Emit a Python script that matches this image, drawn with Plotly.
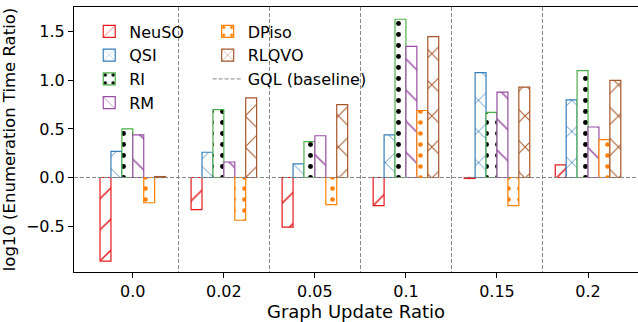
import plotly.graph_objects as go

categories = ["0.0", "0.02", "0.05", "0.1", "0.15", "0.2"]
methods = ["NeuSO", "QSI", "RI", "RM", "DPiso", "RLQVO"]
neuso = [-0.86, -0.33, -0.51, -0.29, -0.01, 0.13]
qsi = [0.27, 0.26, 0.14, 0.44, 1.08, 0.80]
ri = [0.50, 0.70, 0.37, 1.63, 0.67, 1.10]
rm = [0.44, 0.16, 0.43, 1.35, 0.88, 0.52]
dpiso = [-0.26, -0.44, -0.28, 0.69, -0.29, 0.39]
rlqvo = [0.01, 0.82, 0.75, 1.45, 0.93, 1.00]
series = [neuso, qsi, ri, rm, dpiso, rlqvo]

colors = ["#e41a1c", "#377eb8", "#4daf4a", "#984ea3", "#ff7f00", "#a65628"]
shapes = ["/", "x", ".", "\\", ".", "x"]
fgcols = ["#e41a1c", "#377eb8", "#000000", "#984ea3", "#ff7f00", "#a65628"]
sizes = [22, 22, 11, 22, 11, 22]
solid = [0.07, 0.07, 0.16, 0.07, 0.14, 0.09]

bar_w = 0.12
x_range = [-0.646, 5.549]
y_range = [-0.973, 1.756]
font = "DejaVu Sans"

fig = go.Figure()
xs = list(range(len(categories)))
for i, (name, vals) in enumerate(zip(methods, series)):
    fig.add_trace(go.Bar(
        x=xs, y=vals, name=name,
        width=bar_w, offset=(i - 3) * bar_w,
        marker=dict(color="white",
                    line=dict(color=colors[i], width=1.2),
                    pattern=dict(shape=shapes[i], fgcolor=fgcols[i], bgcolor="white",
                                 size=sizes[i], solidity=solid[i], fillmode="replace",
                                 fgopacity=1)),
        legend="legend" if i < 4 else "legend2",
    ))

fig.add_trace(go.Scatter(
    x=[-0.646, 5.646], y=[0, 0], mode="lines", name="GQL (baseline)",
    line=dict(color="#888888", width=1, dash="4px,2px"), legend="legend2",
))

fig.update_layout(
    width=638, height=322,
    margin=dict(l=74, r=0, t=7, b=50),
    paper_bgcolor="white", plot_bgcolor="white",
    barmode="overlay",
    font=dict(family=font, size=16, color="black"),
    legend=dict(x=0.027, y=0.972, xanchor="left", yanchor="top",
                bgcolor="rgba(0,0,0,0)", font=dict(size=16), tracegroupgap=0),
    legend2=dict(x=0.237, y=0.972, xanchor="left", yanchor="top",
                 bgcolor="rgba(0,0,0,0)", font=dict(size=16), tracegroupgap=0),
)
fig.update_xaxes(
    range=x_range, tickvals=xs, ticktext=categories,
    showline=True, linecolor="black", linewidth=1.1, mirror=True,
    ticks="outside", ticklen=5, tickcolor="black",
    showgrid=False, zeroline=False,
    minor=dict(tickvals=[i + 0.5 for i in range(len(categories) - 1)],
               showgrid=True, gridcolor="#888888", griddash="4px,2px", gridwidth=1, ticks=""),
    title=dict(text="Graph Update Ratio", font=dict(size=18), standoff=5),
    tickfont=dict(size=16),
)
fig.update_yaxes(
    range=y_range, tickvals=[-0.5, 0.0, 0.5, 1.0, 1.5], tickformat=".1f",
    showline=True, linecolor="black", linewidth=1.1,
    ticks="outside", ticklen=5, tickcolor="black",
    showgrid=False, zeroline=False,
    title=dict(text="log10 (Enumeration Time Ratio)", font=dict(size=16.5), standoff=10),
    tickfont=dict(size=16),
)

fig.write_html("out.html")
